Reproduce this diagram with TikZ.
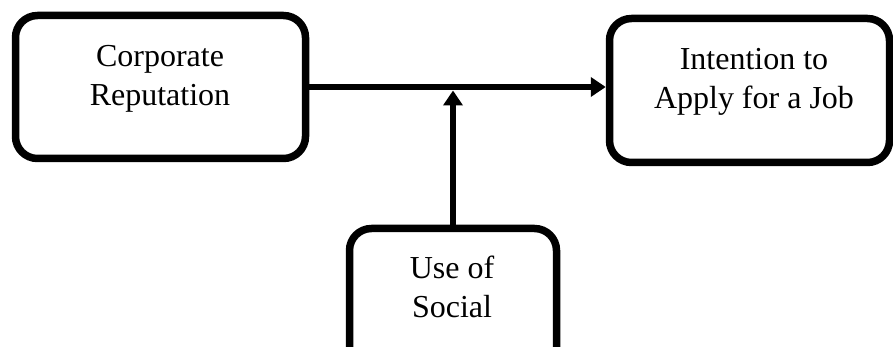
\documentclass[tikz,border=0pt]{standalone}
\usepackage{fontspec}
\setmainfont{Liberation Serif}
\usetikzlibrary{arrows.meta}
\begin{document}
\begin{tikzpicture}[x=1pt,y=-1pt,
  box/.style={draw=black,line width=7.5pt,rounded corners=22pt,rectangle,inner sep=0pt},
  lbl/.style={align=center,inner sep=0pt,font=\fontsize{32}{39}\selectfont},
  conn/.style={draw=black,line width=6.5pt,-{Triangle[length=15pt,width=19pt]}}]
\useasboundingbox (0,0) rectangle (893,347);
\clip (0,0) rectangle (893,347);
\node[box,minimum width=290pt,minimum height=143pt] (cr) at (160.5,87) {};
\node[box,minimum width=280pt,minimum height=144pt] (ia) at (749.5,90.5) {};
\node[box,minimum width=207pt,minimum height=151pt] (us) at (453,304) {};
\node[lbl,anchor=base] (crt) at (160,106) {Corporate\\Reputation};
\node[lbl,anchor=base] (iat) at (754,109) {Intention to\\Apply for a Job};
\node[lbl,anchor=base] (ust) at (452,317) {Use of\\Social};
\coordinate (j) at (453,87);
\draw[conn] (cr.east) -- (cr.east -| ia.west);
\draw[conn,shorten >=3.5pt] (us.north) -- (j);
\end{tikzpicture}
\end{document}
